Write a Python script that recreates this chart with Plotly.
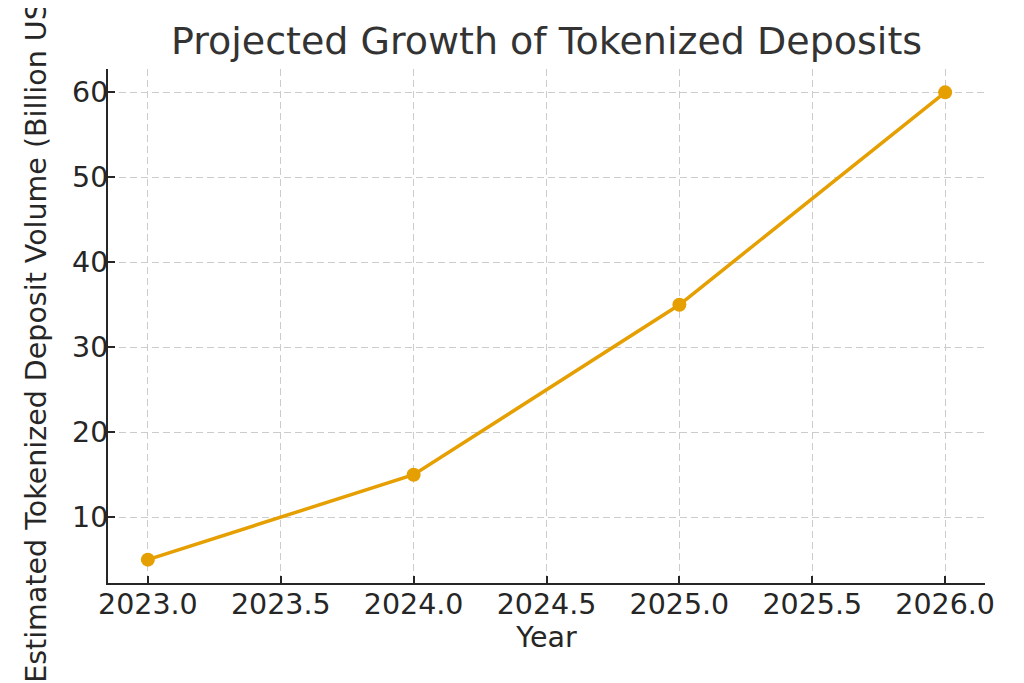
import plotly.graph_objects as go

years = [2023, 2024, 2025, 2026]
volumes = [5, 15, 35, 60]
x_ticks = [2023.0, 2023.5, 2024.0, 2024.5, 2025.0, 2025.5, 2026.0]
x_tick_labels = ["2023.0", "2023.5", "2024.0", "2024.5", "2025.0", "2025.5", "2026.0"]
y_ticks = [10, 20, 30, 40, 50, 60]

title_text = "Projected Growth of Tokenized Deposits"
x_title = "Year"
y_title = "Estimated Tokenized Deposit Volume (Billion USD)"

FONT = "DejaVu Sans"
TEXT = "#262626"
FS = 28.5
# page body has an 8px default margin; figure is sized to fit the window
W, H = 1016, 675

fig = go.Figure()
fig.add_trace(go.Scatter(
    x=years, y=volumes, mode="lines+markers",
    line=dict(color="#E69F00", width=3.5),
    marker=dict(color="#E69F00", size=14),
    showlegend=False,
))

axis_common = dict(
    showline=True, linecolor="#262626", linewidth=2,
    ticks="inside", ticklen=7, tickwidth=1.6, tickcolor="#262626",
    showgrid=True, gridcolor="#cccccc", gridwidth=1.3, griddash="7px,4px",
    zeroline=False, mirror=False, automargin=False,
    tickfont=dict(family=FONT, size=FS, color=TEXT),
)

fig.update_layout(
    width=W, height=H,
    margin=dict(l=100, r=39, t=61, b=100),
    paper_bgcolor="white", plot_bgcolor="white",
    title=dict(text=title_text, x=538.5 / W, xanchor="center",
               y=1 - 33 / H, yanchor="middle",
               font=dict(family=FONT, size=38, color="#333333")),
    xaxis=dict(axis_common, range=[2022.85, 2026.15], tickmode="array",
               tickvals=x_ticks, ticktext=x_tick_labels, ticklabelstandoff=-5,
               title=dict(text=x_title, standoff=6,
                          font=dict(family=FONT, size=FS, color=TEXT))),
    yaxis=dict(axis_common, range=[2.25, 62.75], tickmode="array",
               tickvals=y_ticks, ticklabelstandoff=-8,
               title=dict(text=y_title, standoff=17,
                          font=dict(family=FONT, size=FS, color=TEXT))),
)

fig.write_html("out.html")
